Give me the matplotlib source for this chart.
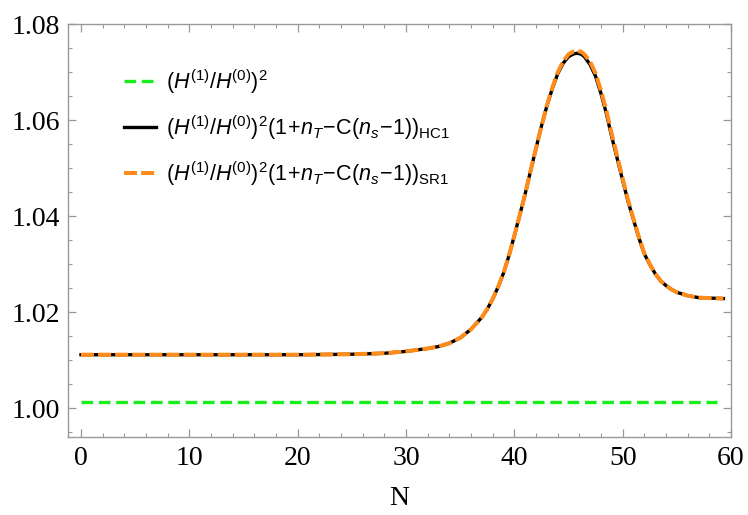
import numpy as np
import matplotlib
matplotlib.use("Agg")
import matplotlib.pyplot as plt
from matplotlib.ticker import MultipleLocator

# values
n_flat = [0, 58.7]
ratio_sq = [1.0014, 1.0014]

n_vals = [0, 5, 10, 15, 20, 25, 28, 30, 32, 33, 34, 35, 36, 37, 37.5, 38,
          38.5, 39, 39.5, 40, 40.5, 41, 41.5, 42, 42.5, 43, 43.5, 44, 44.5,
          45, 45.5, 45.8, 46.2, 46.5, 47, 47.5, 48, 48.5, 49, 49.5, 50, 50.5,
          51, 51.5, 52, 52.5, 53, 53.5, 54, 54.5, 55, 56, 57, 58, 59.3]
hc1 = [1.0112, 1.0112, 1.0112, 1.0112, 1.0112, 1.0113, 1.0115, 1.0119, 1.0125,
       1.0129, 1.0136, 1.0147, 1.0165, 1.0190, 1.0207, 1.0228,
       1.0253, 1.0282, 1.0318, 1.0360, 1.0403, 1.0447, 1.0495, 1.0542,
       1.0588, 1.0630, 1.0666, 1.0697, 1.0719,
       1.0733, 1.0739, 1.0740, 1.0738, 1.0732, 1.0716, 1.0692, 1.0656, 1.0614,
       1.0565, 1.0520, 1.0475, 1.0431,
       1.0393, 1.0355, 1.0322, 1.0300, 1.0281, 1.0266, 1.0256, 1.0248,
       1.0242, 1.0235, 1.0231, 1.0230, 1.0229]
sr1 = [1.0112, 1.0112, 1.0112, 1.0112, 1.0112, 1.0113, 1.0115, 1.0119, 1.0125,
       1.0129, 1.0136, 1.0147, 1.0165, 1.0190, 1.0207, 1.0228,
       1.0253, 1.0282, 1.0318, 1.0360, 1.0403, 1.0447, 1.0495, 1.0542,
       1.0588, 1.0631, 1.0668, 1.0700, 1.0723,
       1.0738, 1.0744, 1.0745, 1.0743, 1.0737, 1.0722, 1.0698, 1.0662, 1.0620,
       1.0571, 1.0525, 1.0479, 1.0434,
       1.0395, 1.0357, 1.0323, 1.0301, 1.0281, 1.0266, 1.0256, 1.0248,
       1.0242, 1.0235, 1.0231, 1.0230, 1.0229]

labels = [
    r'$(H^{(1)}/H^{(0)})^2$',
    r'$(H^{(1)}/H^{(0)})^2(1\!+\!n_T\!-\!\mathrm{C}(n_s\!-\!1))_{\mathrm{HC1}}$',
    r'$(H^{(1)}/H^{(0)})^2(1\!+\!n_T\!-\!\mathrm{C}(n_s\!-\!1))_{\mathrm{SR1}}$',
]

plt.rcParams['mathtext.fontset'] = 'custom'
plt.rcParams['mathtext.rm'] = 'Liberation Sans'
plt.rcParams['mathtext.it'] = 'Liberation Sans:italic'
plt.rcParams['lines.scale_dashes'] = False

fig = plt.figure(figsize=(7.48, 5.15), dpi=100)
ax = fig.add_axes([0.0913, 0.1509, 0.886, 0.8025])

ax.plot(n_flat, ratio_sq, color='#1aee1a', lw=2.4, dashes=(8.4, 4.1), label=labels[0])
ax.plot(n_vals, hc1, color='black', lw=2.4, label=labels[1])
ax.plot(n_vals, sr1, color='#ff8c1a', lw=2.9, dashes=(9.4, 2.9), label=labels[2])

ax.set_xlim(-1.17, 60.0)
ax.set_ylim(0.9940, 1.0801)
ax.xaxis.set_major_locator(MultipleLocator(10))
ax.xaxis.set_minor_locator(MultipleLocator(2))
ax.yaxis.set_major_locator(MultipleLocator(0.02))
ax.yaxis.set_minor_locator(MultipleLocator(0.005))
ax.yaxis.set_major_formatter(plt.FormatStrFormatter('%.2f'))

for sp in ax.spines.values():
    sp.set_color('#999999')
    sp.set_linewidth(1.0)
ax.tick_params(which='both', direction='in', top=True, right=True, color='#999999',
               labelsize=20, labelfontfamily='Liberation Serif', pad=6)
ax.tick_params(which='major', length=5.5, width=0.9)
ax.tick_params(which='minor', length=3, width=0.8)

ax.set_xlabel('N', fontsize=20, family='Liberation Serif', labelpad=11)

ax.legend(loc='upper left', bbox_to_anchor=(0.084, 0.895), frameon=False,
          fontsize=15.5, handlelength=1.5, handletextpad=0.47, labelspacing=0.8,
          borderpad=0, borderaxespad=0)

fig.savefig('out.png', dpi=100)
